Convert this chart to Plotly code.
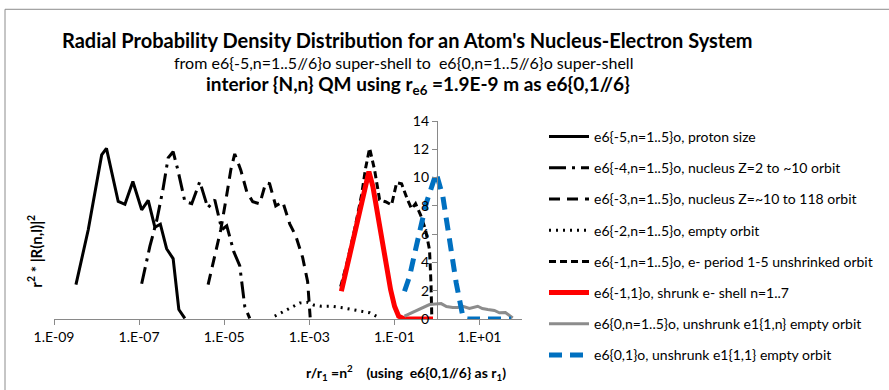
import plotly.graph_objects as go

# ---------------- data ----------------
names = [
    "e6{-5,n=1..5}o, proton size",
    "e6{-4,n=1..5}o, nucleus Z=2 to ~10 orbit",
    "e6{-3,n=1..5}o, nucleus Z=~10 to 118 orbit",
    "e6{-2,n=1..5}o, empty orbit",
    "e6{-1,n=1..5}o, e- period 1-5 unshrinked orbit",
    "e6{-1,1}o, shrunk e- shell n=1..7",
    "e6{0,n=1..5}o, unshrunk e1{1,n} empty orbit",
    "e6{0,1}o, unshrunk e1{1,1} empty orbit",
]

x_m5 = [3.28e-9, 6.38e-9, 1.32e-8, 1.71e-8, 3.23e-8, 4.65e-8, 7.14e-8, 1.15e-7,
        1.64e-7, 2.35e-7, 3.16e-7, 4.43e-7, 6.31e-7, 8.59e-7, 1.19e-6]
y_m5 = [2.43, 6.31, 11.60, 12.06, 8.31, 8.11, 9.72, 7.72, 8.39, 6.49, 6.70, 4.97,
        4.27, 0.67, 0.04]

x_m4 = [1.15e-7, 1.79e-7, 2.62e-7, 3.62e-7, 4.82e-7, 6.31e-7, 8.15e-7, 1.19e-6,
        1.73e-6, 2.67e-6, 4.12e-6, 6.01e-6, 8.79e-6, 1.15e-5, 1.68e-5, 2.32e-5,
        3.05e-5, 3.99e-5]
y_m4 = [2.49, 5.13, 7.02, 9.13, 11.39, 11.83, 10.54, 8.31, 8.15, 9.72, 7.86, 8.43,
        6.31, 6.59, 4.76, 3.77, 0.88, 0.04]

x_m3 = [4.19e-6, 6.01e-6, 8.32e-6, 1.15e-5, 1.43e-5, 1.77e-5, 2.45e-5, 3.40e-5,
        4.69e-5, 6.85e-5, 9.48e-5, 1.17e-4, 1.63e-4, 2.38e-4, 3.47e-4, 4.80e-4,
        7.00e-4, 9.16e-4, 1.05e-3]
y_m3 = [2.43, 4.43, 6.31, 8.78, 10.54, 11.67, 10.54, 8.99, 8.29, 8.15, 9.63, 9.56,
        8.00, 8.29, 6.73, 5.89, 4.34, 2.64, 0.11]

x_m2 = [1.54e-4, 3.16e-4, 5.96e-4, 9.31e-4, 1.27e-3, 1.92e-3, 3.30e-3, 6.18e-3,
        1.28e-2, 2.62e-2, 4.50e-2]
y_m2 = [0.20, 0.67, 1.13, 1.18, 0.99, 0.90, 0.90, 0.79, 0.62, 0.44, 0.08]

x_m1 = [5.46e-3, 7.55e-3, 1.16e-2, 1.70e-2, 2.11e-2, 2.62e-2, 3.43e-2, 4.50e-2,
        6.21e-2, 8.59e-2, 0.113, 0.148, 0.204, 0.254, 0.315, 0.412, 0.540, 0.670,
        0.728, 0.759]
y_m1 = [2.29, 3.84, 6.31, 8.78, 10.68, 12.07, 10.54, 8.43, 8.29, 8.07, 9.63, 9.56,
        8.43, 7.79, 8.15, 7.37, 6.31, 4.90, 2.43, 0.11]

x_red = [5.68e-3, 9.73e-3, 1.67e-2, 2.52e-2, 3.13e-2, 4.50e-2, 6.46e-2, 8.15e-2,
         0.101, 0.126, 0.173, 0.809]
y_red = [1.96, 5.13, 7.95, 10.42, 9.37, 6.54, 3.96, 2.08, 0.90, 0.20, 0.0, 0.0]

x_gray = [0.173, 0.351, 0.670, 1.26, 1.68, 2.36, 3.05, 4.06, 5.82, 9.12, 11.7,
          15.7, 22.5, 29.4, 40.7, 60.5]
y_gray = [0.20, 0.60, 1.02, 1.09, 0.88, 0.81, 0.81, 0.90, 0.74, 0.90, 0.74, 0.67,
          0.60, 0.44, 0.46, 0.08]

x_blue = [0.173, 0.228, 0.327, 0.561, 0.964, 1.38, 1.98, 2.84, 4.06, 5.22, 55.5]
y_blue = [1.96, 3.02, 5.13, 8.19, 10.31, 8.66, 5.61, 2.55, 0.20, 0.0, 0.0]

xs = [x_m5, x_m4, x_m3, x_m2, x_m1, x_red, x_gray, x_blue]
ys = [y_m5, y_m4, y_m3, y_m2, y_m1, y_red, y_gray, y_blue]

x_tickvals = [1e-9, 1e-7, 1e-5, 1e-3, 1e-1, 1e1]
x_ticktext = ["1.E-09", "1.E-07", "1.E-05", "1.E-03", "1.E-01", "1.E+01"]
y_tickvals = [0, 2, 4, 6, 8, 10, 12, 14]

# ---------------- styles ----------------
styles = [
    dict(color="black", width=3, dash="solid"),
    dict(color="black", width=3, dash="17px,6px,3px,6px"),
    dict(color="black", width=3, dash="11px,7px"),
    dict(color="black", width=3, dash="2px,5px"),
    dict(color="black", width=3, dash="7px,4px"),
    dict(color="#FF0000", width=5, dash="solid"),
    dict(color="#8C8C8C", width=3, dash="solid"),
    dict(color="#0070C0", width=5, dash="13px,8px"),
]

FONT = "Lato"
fig = go.Figure()
for i in range(8):
    fig.add_trace(go.Scatter(
        x=xs[i], y=ys[i], mode="lines", name=names[i],
        legendgroup="g%d" % i,
        line=dict(color=styles[i]["color"], width=styles[i]["width"],
                  dash=styles[i]["dash"]),
        hoverinfo="skip",
    ))

W, H = 889, 390
L, R = 54, 522
T, B = 121, 319.5
pw, ph = R - L, B - T

def px(xpix):
    return (xpix - L) / pw

def py(ypix):
    return (B - ypix) / ph

xmin, xmax = -9, 2

fig.update_layout(
    width=W, height=H,
    margin=dict(l=L, r=W - R, t=T, b=H - B, pad=0),
    paper_bgcolor="white", plot_bgcolor="white",
    font=dict(family=FONT, size=14, color="#000000"),
    showlegend=True,
    legend=dict(
        xref="container", yref="container",
        x=544 / W, y=1 - 121 / H, xanchor="left", yanchor="top",
        font=dict(family=FONT, size=14, color="#000000"),
        tracegroupgap=10, bgcolor="rgba(0,0,0,0)",
        itemwidth=40, maxheight=400,
    ),
    xaxis=dict(
        type="log", range=[xmin, xmax], showgrid=False, zeroline=False,
        showline=True, linecolor="#898989", linewidth=1,
        ticks="outside", ticklen=5, tickcolor="#898989",
        tickvals=x_tickvals, ticktext=x_ticktext,
        tickfont=dict(family=FONT, size=14, color="#000000"),
        anchor="y",
    ),
    yaxis=dict(
        range=[0, 14], showgrid=False, zeroline=False,
        showline=True, linecolor="#898989", linewidth=1,
        ticks="outside", ticklen=5, tickcolor="#898989",
        tickvals=y_tickvals,
        tickfont=dict(family=FONT, size=14, color="#000000"),
        anchor="free", position=(0 - xmin) / (xmax - xmin),
    ),
)

ann = [
    dict(text="<b>Radial Probability Density Distribution for an Atom's Nucleus-Electron System</b>",
         x=px(407), y=py(40), size=20),
    dict(text="from e6{-5,n=1..5//6}o super-shell to  e6{0,n=1..5//6}o super-shell",
         x=px(403), y=py(62), size=16),
    dict(text="<b>interior {N,n} QM using r<sub>e6</sub> =1.9E-9 m as e6{0,1//6}</b>",
         x=px(418), y=py(85), size=19),
    dict(text="<b>r/r<sub>1</sub> =n<sup>2</sup>    (using  e6{0,1//6} as r<sub>1</sub>)</b>",
         x=px(406), y=py(373), size=14),
]
for a in ann:
    fig.add_annotation(text=a["text"], x=a["x"], y=a["y"], xref="paper", yref="paper",
                       showarrow=False, xanchor="center", yanchor="middle",
                       font=dict(family=FONT, size=a["size"], color="#000000"))
fig.add_annotation(text="<b>r<sup>2</sup> * |R(n,l)|<sup>2</sup></b>", x=px(35), y=py(252),
                   xref="paper", yref="paper", showarrow=False, textangle=-90,
                   xanchor="center", yanchor="middle",
                   font=dict(family=FONT, size=15, color="#000000"))

# chart border (cropped at right and bottom)
fig.add_shape(type="rect", xref="paper", yref="paper",
              x0=px(5), x1=px(W + 10), y0=py(H + 10), y1=py(9),
              line=dict(color="#8C8C8C", width=1), fillcolor="rgba(0,0,0,0)", layer="below")

fig.write_html("out.html")
